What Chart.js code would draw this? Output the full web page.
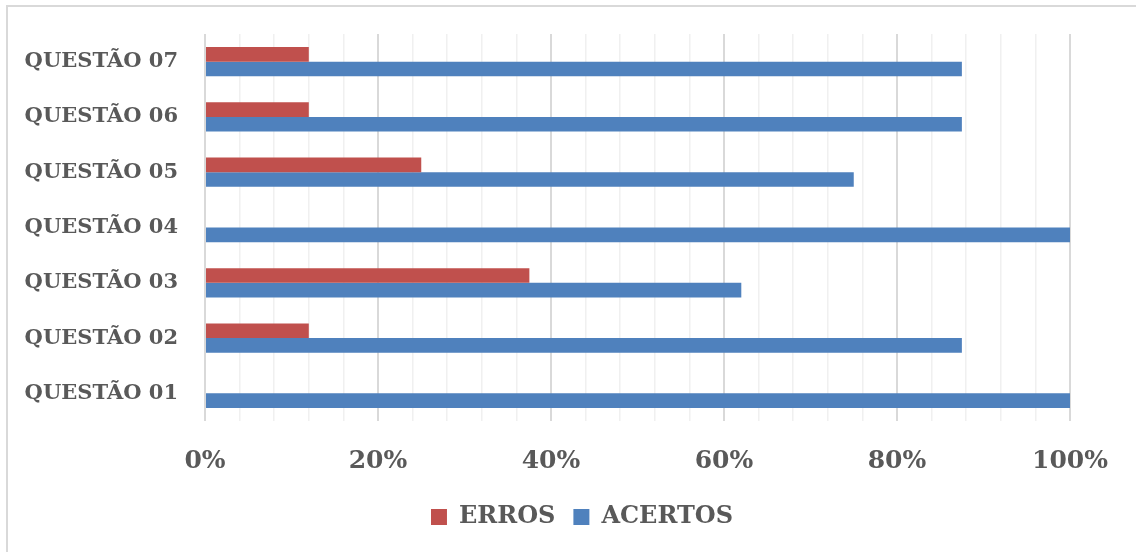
<!DOCTYPE html>
<html>
<head>
<meta charset="utf-8">
<script src="https://cdn.jsdelivr.net/npm/chart.js@4"></script>
<style>
  html, body { margin: 0; padding: 0; background: #fff; }
  #wrap { position: relative; width: 1136px; height: 552px; }
  #frame { position: absolute; left: 6px; top: 5px; right: -10px; bottom: -10px;
           border-left: 2px solid #d9d9d9; border-top: 2px solid #d9d9d9; pointer-events: none; }
</style>
</head>
<body>
<div id="wrap">
  <canvas id="grafico" width="1136" height="552"></canvas>
  <div id="frame"></div>
</div>
<script>
// categorias de cima para baixo
const questoes = ['QUESTÃO 07', 'QUESTÃO 06', 'QUESTÃO 05', 'QUESTÃO 04', 'QUESTÃO 03', 'QUESTÃO 02', 'QUESTÃO 01'];
const erros = [12, 12, 25, 0, 37.5, 12, 0];
const acertos = [87.5, 87.5, 75, 100, 62, 87.5, 100];
const marcasEixo = [0, 20, 40, 60, 80, 100];

const corTexto = '#595959';
const fonte = 'DejaVu Serif';

// empurra a legenda um pouco para a direita, como no original
const moverLegenda = {
    id: 'moverLegenda',
    beforeDraw(chart) {
        if (chart.$legendaMovida) return;
        chart.legend.left += 47;
        chart.legend.right += 47;
        chart.$legendaMovida = true;
    }
};

const ctx = document.getElementById('grafico').getContext('2d');
new Chart(ctx, {
    type: 'bar',
    data: {
        labels: questoes,
        datasets: [
            { label: 'ERROS', data: erros, backgroundColor: '#C0504D', barPercentage: 1.0, categoryPercentage: 0.53 },
            { label: 'ACERTOS', data: acertos, backgroundColor: '#4F81BD', barPercentage: 1.0, categoryPercentage: 0.53 }
        ]
    },
    plugins: [moverLegenda],
    options: {
        indexAxis: 'y',
        responsive: false,
        animation: false,
        layout: { padding: { top: 34, right: 66, bottom: 13, left: 0 } },
        plugins: {
            legend: {
                position: 'bottom',
                labels: {
                    boxWidth: 16, boxHeight: 16, padding: 18,
                    color: corTexto,
                    font: { family: fonte, size: 24, weight: 'bold' }
                }
            },
            tooltip: { enabled: false }
        },
        scales: {
            x: {
                min: 0, max: 100,
                ticks: {
                    stepSize: 4,
                    autoSkip: false,
                    maxRotation: 0,
                    padding: 25,
                    color: corTexto,
                    font: { family: fonte, size: 25, weight: 'bold' },
                    callback: v => marcasEixo.includes(v) ? v + '%' : ''
                },
                grid: {
                    drawTicks: false,
                    color: c => (c.tick && c.tick.value % 20 === 0) ? '#d9d9d9' : '#f0f0f0',
                    lineWidth: c => (c.tick && c.tick.value % 20 === 0) ? 2 : 1.5
                },
                border: { display: false },
                afterFit: s => { s.height -= 14; }
            },
            y: {
                ticks: {
                    padding: 27,
                    color: corTexto,
                    font: { family: fonte, size: 21, weight: 'bold' }
                },
                grid: { display: false, drawTicks: false },
                border: { display: false },
                afterFit: s => { s.width = 205; s.paddingTop = 0; s.paddingBottom = 0; }
            }
        }
    }
});
</script>
</body>
</html>
